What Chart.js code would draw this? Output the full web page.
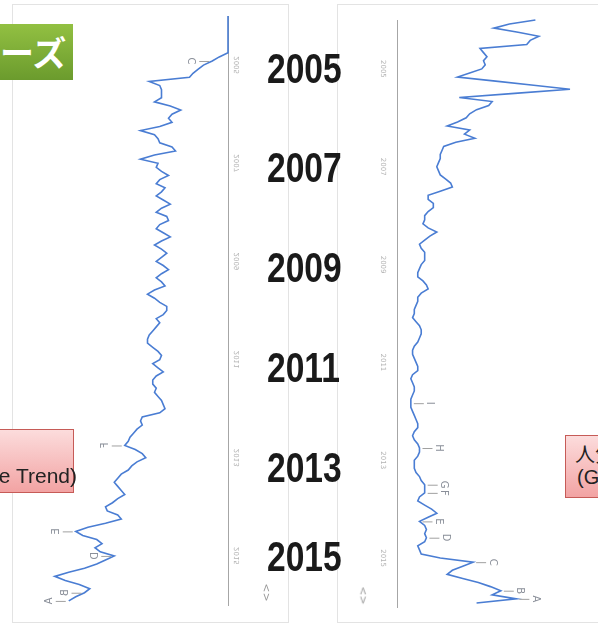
<!DOCTYPE html>
<html>
<head>
<meta charset="utf-8">
<script src="https://cdn.jsdelivr.net/npm/chart.js@4.4.1/dist/chart.umd.min.js"></script>
<style>
  body { margin: 0; width: 598px; height: 625px; overflow: hidden; background: #fff; position: relative; font-family: "Liberation Sans", Arial, sans-serif; }
  .panel { position: absolute; border: 1px solid #e3e3e3; background: #fff; }
  canvas { position: absolute; top: 0; }
  .yr { position: absolute; left: 267px; font: bold 42px/42px "Liberation Sans", Arial, sans-serif; color: #1a1a1a;
        transform: scaleX(0.8); transform-origin: 0 0; }
  .green { position: absolute; left: 0; top: 24px; width: 73px; height: 56px; overflow: hidden; white-space: nowrap;
           background: linear-gradient(#92c042, #6b9b2d); color: #fff; text-align: right; box-sizing: border-box; padding-right: 9px;
           font: bold 34px/56px "Noto Sans CJK JP", sans-serif; }
  .pink { position: absolute; border: 1px solid #c65b57; background: linear-gradient(#fcdcdc, #f2a3a3); }
  .txt { position: absolute; white-space: nowrap; color: #222; font-size: 21px; line-height: 21px; }
  .icon { position: absolute; color: #999; font: 11px/11px "DejaVu Sans", sans-serif; transform: rotate(90deg); }
</style>
</head>
<body>
<div class="panel" style="left:12px;top:4px;width:275px;height:617px"></div>
<div class="panel" style="left:337px;top:4px;width:280px;height:617px"></div>

<canvas id="leftChart" width="300" height="625" style="left:0"></canvas>
<canvas id="rightChart" width="298" height="625" style="left:300px"></canvas>

<div class="green">ーズ</div>

<div class="pink" style="left:-100px;top:429px;width:172px;height:62px"></div>
<div class="txt" style="left:-123px;top:465px;width:200px;text-align:right">(Google Trend)</div>

<div class="pink" style="left:565px;top:435px;width:200px;height:61px"></div>
<div class="txt" style="left:575px;top:443px;font-size:20px;font-family:'Noto Sans CJK JP',sans-serif">人気推移</div>
<div class="txt" style="left:577px;top:467px;font-size:20px">(Google Trend)</div>

<div class="yr" style="top:48px">2005</div>
<div class="yr" style="top:147px">2007</div>
<div class="yr" style="top:247px">2009</div>
<div class="yr" style="top:347px">2011</div>
<div class="yr" style="top:447px">2013</div>
<div class="yr" style="top:536px">2015</div>

<span class="icon" style="left:257px;top:587px">&lt;&gt;</span>
<span class="icon" style="left:354px;top:590px">&lt;&gt;</span>

<script>
// monthly search interest, Jan 2004 .. Dec 2015 (0-100)
const startYear = 2004;
const endYear = 2016;
const yearTicks = [2005, 2007, 2009, 2011, 2013, 2015];

const leftSearches = [
  0, 0, 0, 0, 0, 0, 0, 0, 0, 0,
  5, 9, 14, 17, 20, 22, 45, 39, 38, 38,
  38, 42, 33, 27, 32, 34, 32, 39, 50, 42,
  40, 39, 32, 30, 42, 50, 40, 41, 38, 34,
  39, 41, 36, 38, 41, 37, 33, 38, 41, 35,
  34, 39, 41, 37, 33, 38, 42, 38, 35, 38,
  41, 37, 34, 38, 41, 38, 36, 42, 46, 42,
  39, 35, 35, 37, 41, 39, 41, 43, 45, 46,
  46, 43, 40, 38, 39, 43, 40, 37, 41, 43,
  43, 41, 42, 40, 38, 37, 36, 39, 49, 50,
  49, 52, 54, 56, 57, 59, 53, 49, 47, 52,
  55, 57, 61, 63, 65, 63, 61, 59, 63, 66,
  70, 69, 63, 61, 70, 80, 87, 83, 75, 72,
  76, 73, 65, 70, 75, 82, 91, 99, 93, 85,
  79, 82, 87, 91
];
const leftNoteIdx = [11, 105, 126, 132, 141, 143];
const leftNoteTxt = ['C', 'F', 'E', 'D', 'B', 'A'];

const rightSearches = [
  80, 65, 56, 70, 82, 77, 75, 48, 50, 52,
  50, 51, 49, 42, 35, 57, 79, 100, 68, 36,
  55, 53, 46, 42, 40, 35, 29, 42, 39, 45,
  34, 27, 26, 25, 25, 24, 23, 24, 25, 28,
  31, 32, 25, 18, 18, 21, 21, 18, 16, 16,
  15, 18, 23, 19, 16, 13, 14, 16, 16, 16,
  14, 13, 12, 12, 15, 17, 18, 14, 12, 12,
  11, 10, 10, 9, 11, 13, 14, 14, 13, 12,
  10, 9, 9, 10, 11, 12, 12, 9, 8, 9,
  10, 10, 9, 8, 8, 8, 9, 10, 11, 12,
  12, 10, 9, 10, 12, 13, 13, 12, 10, 10,
  10, 11, 13, 14, 16, 16, 16, 13, 12, 16,
  20, 23, 18, 13, 16, 17, 16, 17, 16, 12,
  13, 14, 25, 44, 38, 32, 29, 38, 47, 54,
  60, 55, 69, 46
];
const rightNoteIdx = [94, 105, 114, 116, 123, 127, 133, 140, 142];
const rightNoteTxt = ['I', 'H', 'G', 'F', 'E', 'D', 'C', 'B', 'A'];

function toPoints(values) {
  return values.map((v, i) => ({ x: v, y: startYear + i / 12 }));
}

// draws the small rotated year labels and the news letters
const trendLabels = {
  id: 'trendLabels',
  afterDatasetsDraw(chart, args, opts) {
    const { ctx } = chart;
    const xs = chart.scales.x, ys = chart.scales.y;
    const mirror = opts.side === 'right';
    const dir = mirror ? -1 : 1;

    function rotText(text, px, py) {
      ctx.save();
      ctx.translate(px, py);
      if (mirror) ctx.scale(-1, 1);
      ctx.rotate(Math.PI / 2);
      ctx.fillText(text, 0, 0);
      ctx.restore();
    }

    ctx.save();
    ctx.textAlign = 'center';
    ctx.textBaseline = 'middle';

    ctx.font = '7px "DejaVu Sans", sans-serif';
    ctx.fillStyle = '#b4b4b4';
    const tickX = mirror ? ys.left + 9 : ys.right - 14;
    yearTicks.forEach(yr => rotText(String(yr), tickX, ys.getPixelForValue(yr)));

    const values = opts.values;
    ctx.font = '10px "DejaVu Sans", sans-serif';
    opts.idx.forEach((i, k) => {
      const px = xs.getPixelForValue(values[i]);
      const py = ys.getPixelForValue(startYear + i / 12);
      ctx.strokeStyle = '#a0a0a0';
      ctx.lineWidth = 1;
      ctx.beginPath();
      ctx.moveTo(px + dir * 3, py + 0.5);
      ctx.lineTo(px + dir * 13, py + 0.5);
      ctx.stroke();
      ctx.fillStyle = '#8a8f99';
      rotText(opts.txt[k], px + dir * 19, py);
    });
    ctx.restore();
  }
};

function makeChart(id, values, side, padding, axisWidth, noteIdx, noteTxt) {
  return new Chart(document.getElementById(id), {
    type: 'scatter',
    data: {
      datasets: [{
        data: toPoints(values),
        showLine: true,
        borderColor: '#4a7dd3',
        borderWidth: 1.6,
        pointRadius: 0,
        tension: 0,
        clip: false
      }]
    },
    options: {
      responsive: false,
      animation: false,
      events: [],
      devicePixelRatio: 1,
      layout: { padding: padding },
      plugins: {
        legend: { display: false },
        tooltip: { enabled: false },
        trendLabels: { side: side, values: values, idx: noteIdx, txt: noteTxt }
      },
      scales: {
        x: { type: 'linear', min: 0, max: 100, reverse: side === 'right', display: false },
        y: {
          type: 'linear',
          position: side,
          min: startYear,
          max: endYear,
          reverse: true,
          grid: { display: false },
          ticks: { display: false },
          border: { display: true, color: '#a6a6a6', width: 1 },
          afterFit: s => { s.width = axisWidth; }
        }
      }
    },
    plugins: [trendLabels]
  });
}

// left chart: values grow to the left, axis on the right
makeChart('leftChart', leftSearches, 'right', { left: 53, top: 16, bottom: 20, right: 0 }, 72, leftNoteIdx, leftNoteTxt);
// right chart: values grow to the right, axis on the left
makeChart('rightChart', rightSearches, 'left', { left: 0, top: 20, bottom: 18, right: 28 }, 97, rightNoteIdx, rightNoteTxt);
</script>
</body>
</html>
